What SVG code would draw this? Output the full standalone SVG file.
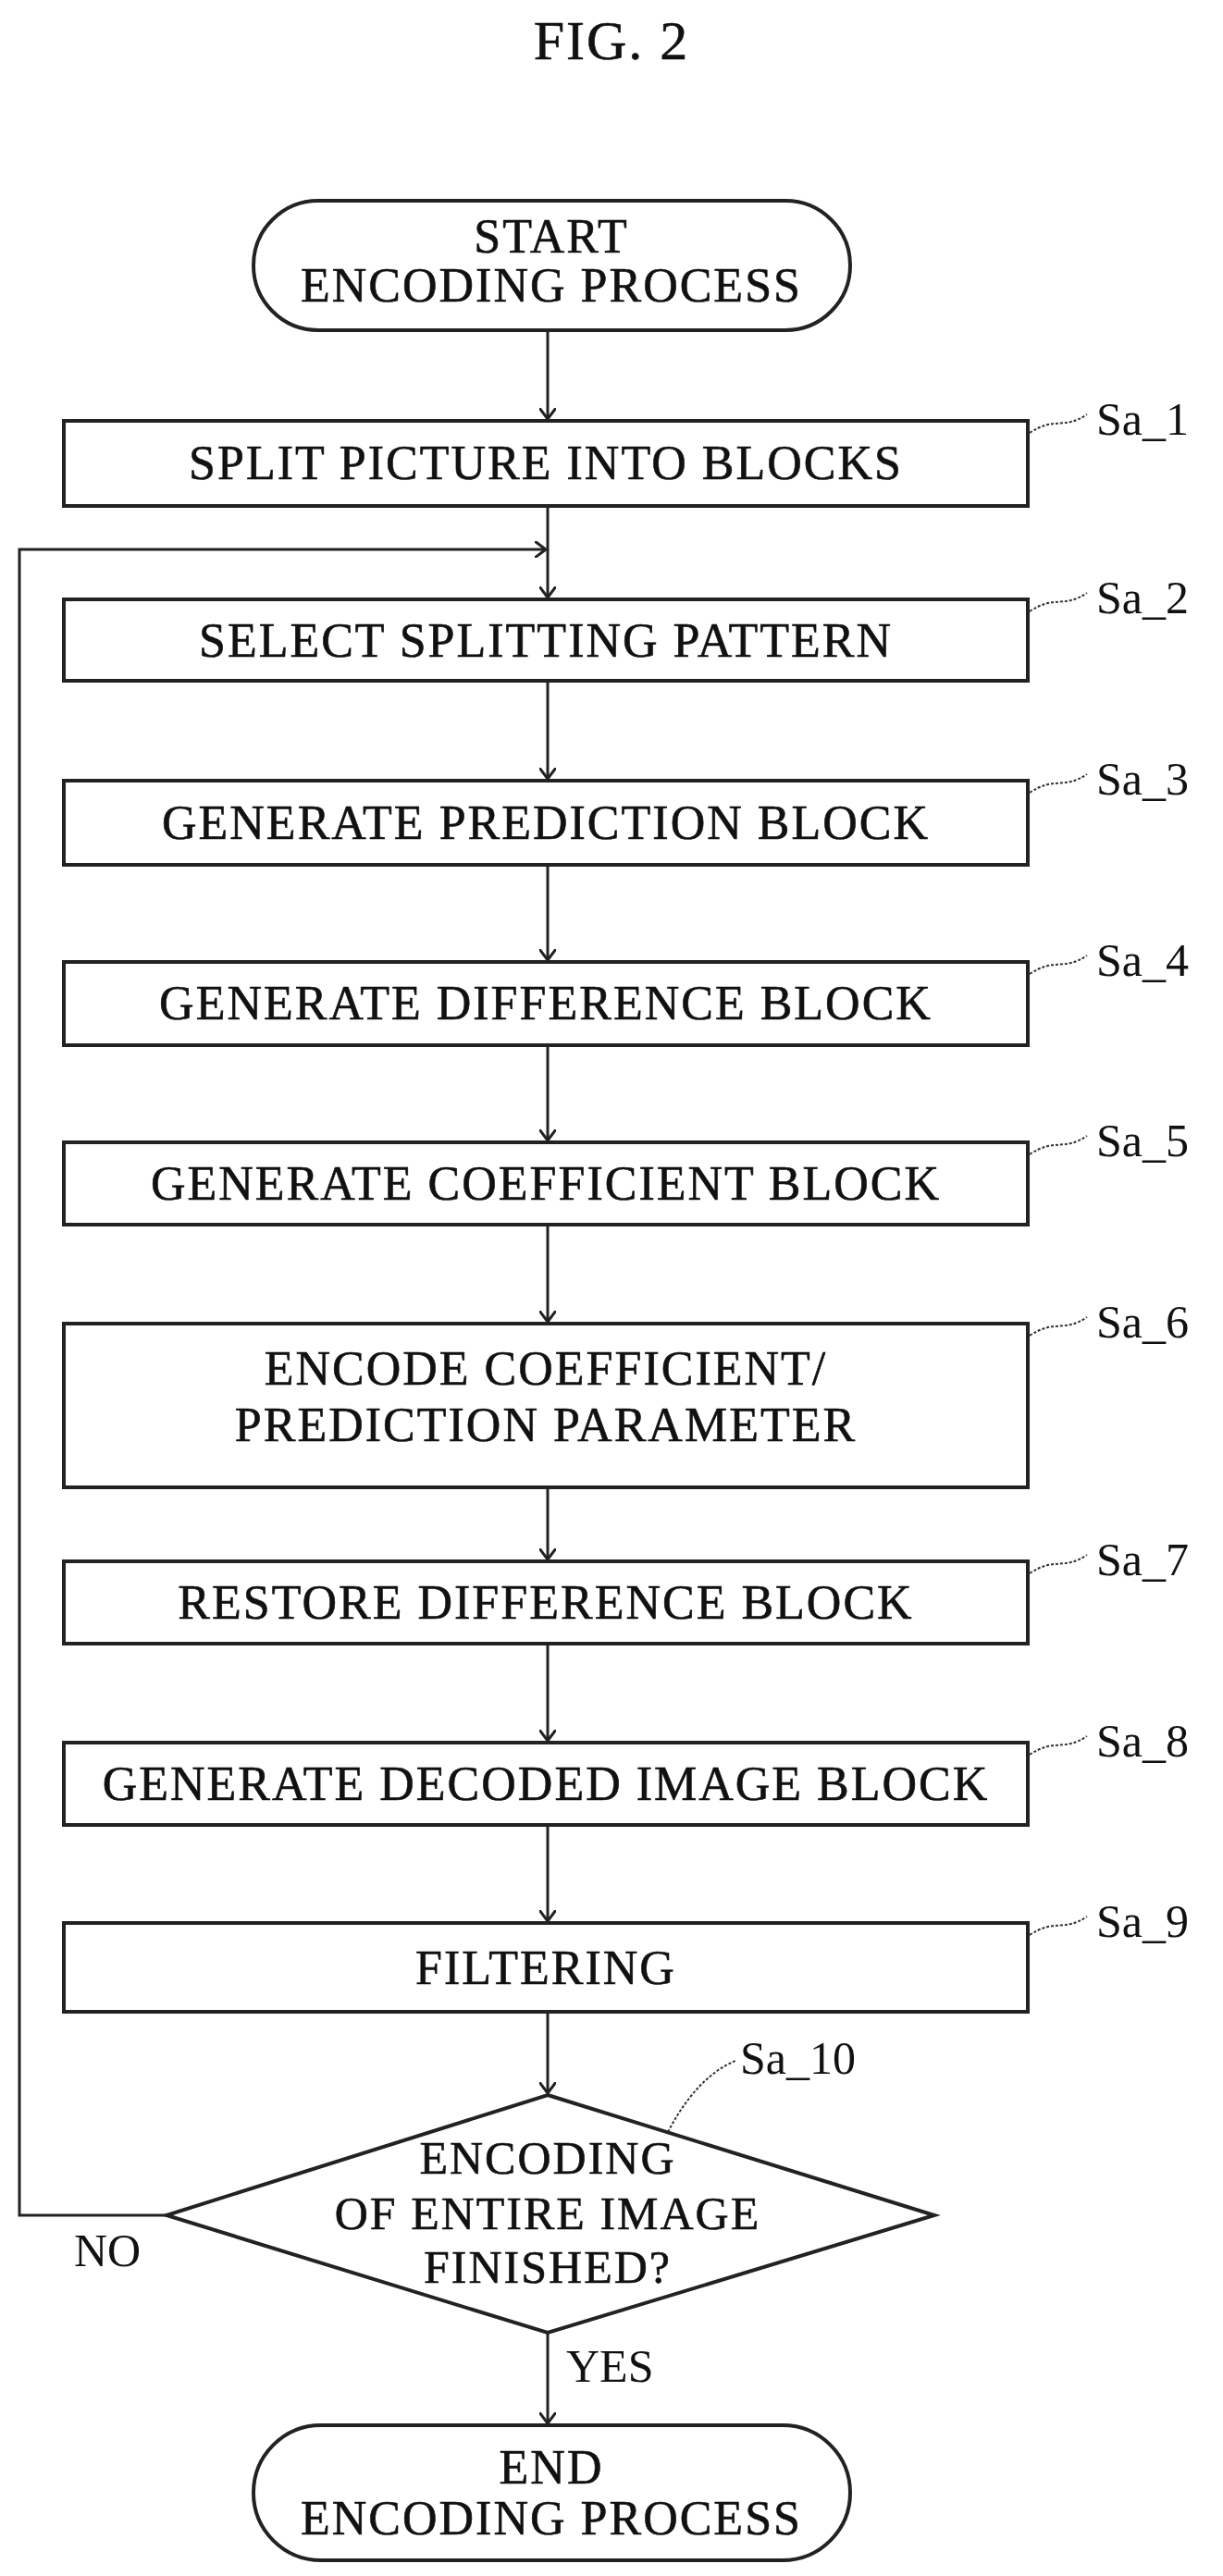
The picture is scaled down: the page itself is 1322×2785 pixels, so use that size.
<svg xmlns="http://www.w3.org/2000/svg" width="1322" height="2785" viewBox="0 0 1322 2785">
<style>
.b{fill:#fff;stroke:#222;stroke-width:4}
.t{font-family:"Liberation Serif",serif;font-size:52px;fill:#111;stroke:#111;stroke-width:0.6;text-anchor:middle;letter-spacing:2px}
.l{font-family:"Liberation Serif",serif;font-size:50px;fill:#111}
.c{fill:none;stroke:#222;stroke-width:3}
.ld{fill:none;stroke:#333;stroke-width:2;stroke-dasharray:3 2}
</style>
<defs><marker id="a" markerWidth="14" markerHeight="18" refX="12" refY="9" orient="auto" markerUnits="userSpaceOnUse"><path d="M0,0 L12,9 L0,18" fill="none" stroke="#222" stroke-width="3"/></marker></defs>
<text x="661" y="64" class="t" style="font-size:60px">FIG. 2</text>
<g id="connectors">
<line class="c" x1="592" y1="358" x2="592" y2="453" marker-end="url(#a)"/>
<line class="c" x1="592" y1="548" x2="592" y2="646" marker-end="url(#a)"/>
<polyline class="c" points="180,2395 21,2395 21,594 590,594" marker-end="url(#a)"/>
<line class="c" x1="592" y1="738" x2="592" y2="842" marker-end="url(#a)"/>
<line class="c" x1="592" y1="935" x2="592" y2="1038" marker-end="url(#a)"/>
<line class="c" x1="592" y1="1130" x2="592" y2="1233" marker-end="url(#a)"/>
<line class="c" x1="592" y1="1324" x2="592" y2="1429" marker-end="url(#a)"/>
<line class="c" x1="592" y1="1608" x2="592" y2="1686" marker-end="url(#a)"/>
<line class="c" x1="592" y1="1777" x2="592" y2="1882" marker-end="url(#a)"/>
<line class="c" x1="592" y1="1973" x2="592" y2="2077" marker-end="url(#a)"/>
<line class="c" x1="592" y1="2175" x2="592" y2="2263" marker-end="url(#a)"/>
<line class="c" x1="592" y1="2522" x2="592" y2="2620" marker-end="url(#a)"/>
<text x="612" y="2575" class="l">YES</text>
<text x="80" y="2450" class="l">NO</text>
</g>
<g id="start"><rect class="b" x="274" y="217" width="645" height="140" rx="70"/><text x="596" y="273" class="t">START</text><text x="596" y="326" class="t">ENCODING PROCESS</text></g>
<g id="sa1"><rect class="b" x="69" y="455" width="1042" height="92"/><text x="590" y="518" class="t">SPLIT PICTURE INTO BLOCKS</text><path class="ld" d="M1113,468 C1140,450 1150,465 1175,448"/><text x="1185" y="470" class="l">Sa_1</text></g>
<g id="sa2"><rect class="b" x="69" y="648" width="1042" height="88"/><text x="590" y="710" class="t">SELECT SPLITTING PATTERN</text><path class="ld" d="M1113,661 C1140,643 1150,658 1175,641"/><text x="1185" y="663" class="l">Sa_2</text></g>
<g id="sa3"><rect class="b" x="69" y="844" width="1042" height="91"/><text x="590" y="907" class="t">GENERATE PREDICTION BLOCK</text><path class="ld" d="M1113,857 C1140,839 1150,854 1175,837"/><text x="1185" y="859" class="l">Sa_3</text></g>
<g id="sa4"><rect class="b" x="69" y="1040" width="1042" height="90"/><text x="590" y="1102" class="t">GENERATE DIFFERENCE BLOCK</text><path class="ld" d="M1113,1053 C1140,1035 1150,1050 1175,1033"/><text x="1185" y="1055" class="l">Sa_4</text></g>
<g id="sa5"><rect class="b" x="69" y="1235" width="1042" height="89"/><text x="590" y="1297" class="t">GENERATE COEFFICIENT BLOCK</text><path class="ld" d="M1113,1248 C1140,1230 1150,1245 1175,1228"/><text x="1185" y="1250" class="l">Sa_5</text></g>
<g id="sa6"><rect class="b" x="69" y="1431" width="1042" height="177"/><text x="590" y="1497" class="t">ENCODE COEFFICIENT/</text><text x="590" y="1558" class="t">PREDICTION PARAMETER</text><path class="ld" d="M1113,1444 C1140,1426 1150,1441 1175,1424"/><text x="1185" y="1446" class="l">Sa_6</text></g>
<g id="sa7"><rect class="b" x="69" y="1688" width="1042" height="89"/><text x="590" y="1750" class="t">RESTORE DIFFERENCE BLOCK</text><path class="ld" d="M1113,1701 C1140,1683 1150,1698 1175,1681"/><text x="1185" y="1703" class="l">Sa_7</text></g>
<g id="sa8"><rect class="b" x="69" y="1884" width="1042" height="89"/><text x="590" y="1946" class="t">GENERATE DECODED IMAGE BLOCK</text><path class="ld" d="M1113,1897 C1140,1879 1150,1894 1175,1877"/><text x="1185" y="1899" class="l">Sa_8</text></g>
<g id="sa9"><rect class="b" x="69" y="2079" width="1042" height="96"/><text x="590" y="2145" class="t">FILTERING</text><path class="ld" d="M1113,2092 C1140,2074 1150,2089 1175,2072"/><text x="1185" y="2094" class="l">Sa_9</text></g>
<g id="sa10"><polygon class="b" points="592,2265 1010,2395 592,2522 180,2395"/><text x="592" y="2350" class="t" style="font-size:50px">ENCODING</text><text x="592" y="2410" class="t" style="font-size:50px">OF ENTIRE IMAGE</text><text x="592" y="2468" class="t" style="font-size:50px">FINISHED?</text><path class="ld" d="M722,2305 C740,2270 765,2240 795,2228"/><text x="800" y="2242" class="l">Sa_10</text></g>
<g id="end"><rect class="b" x="274" y="2622" width="645" height="146" rx="73"/><text x="596" y="2685" class="t">END</text><text x="596" y="2740" class="t">ENCODING PROCESS</text></g>
</svg>
